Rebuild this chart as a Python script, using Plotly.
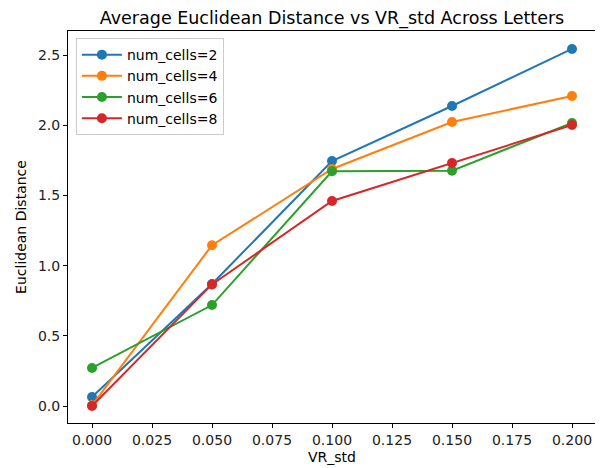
import plotly.graph_objects as go

vr_std = [0.0, 0.05, 0.10, 0.15, 0.20]
series_names = ["num_cells=2", "num_cells=4", "num_cells=6", "num_cells=8"]
dist_2 = [0.064, 0.869, 1.745, 2.137, 2.543]
dist_4 = [0.005, 1.145, 1.688, 2.023, 2.208]
dist_6 = [0.271, 0.719, 1.672, 1.676, 2.016]
dist_8 = [0.0, 0.866, 1.460, 1.731, 2.001]
series_values = [dist_2, dist_4, dist_6, dist_8]
colors = ["#1f77b4", "#ff7f0e", "#2ca02c", "#d62728"]

x_ticks = [0.0, 0.025, 0.05, 0.075, 0.1, 0.125, 0.15, 0.175, 0.2]
x_labels = ["0.000", "0.025", "0.050", "0.075", "0.100", "0.125", "0.150", "0.175", "0.200"]
y_ticks = [0.0, 0.5, 1.0, 1.5, 2.0, 2.5]
y_labels = ["0.0", "0.5", "1.0", "1.5", "2.0", "2.5"]

fig = go.Figure()
for name, vals, c in zip(series_names, series_values, colors):
    fig.add_trace(go.Scatter(x=vr_std, y=vals, name=name, mode="lines+markers",
                             line=dict(color=c, width=2),
                             marker=dict(color=c, size=10)))

axis_common = dict(showgrid=False, zeroline=False, showline=True, linecolor="black",
                   linewidth=1, mirror=True, ticks="outside", ticklen=4, tickcolor="black",
                   tickfont=dict(size=14, color="#222222"), automargin=False)

# page body has an 8px margin, so the figure is drawn 8px smaller and offset
W, H = 595, 460
L, R, T, B = 60, 7, 23, 45
fig.update_layout(
    width=W, height=H,
    margin=dict(l=L, r=R, t=T, b=B, autoexpand=False),
    paper_bgcolor="white", plot_bgcolor="white",
    font=dict(family="DejaVu Sans", color="black"),
    title=dict(text="Average Euclidean Distance vs VR_std Across Letters",
               x=(L + (W - R)) / 2 / W, xanchor="center", y=1 - 10 / H, yanchor="middle",
               font=dict(size=17.5)),
    xaxis=dict(range=[-0.01, 0.21], tickvals=x_ticks, ticktext=x_labels,
               title=dict(text="VR_std", font=dict(size=14), standoff=5), **axis_common),
    yaxis=dict(range=[-0.121, 2.671], tickvals=y_ticks, ticktext=y_labels,
               title=dict(text="Euclidean Distance", font=dict(size=14), standoff=8), **axis_common),
    legend=dict(x=0.015, y=0.982, xanchor="left", yanchor="top", bordercolor="#cccccc",
                borderwidth=1, bgcolor="rgba(255,255,255,0.8)", font=dict(size=14),
                tracegroupgap=0, itemwidth=40),
    showlegend=True,
)

fig.write_html("out.html")
